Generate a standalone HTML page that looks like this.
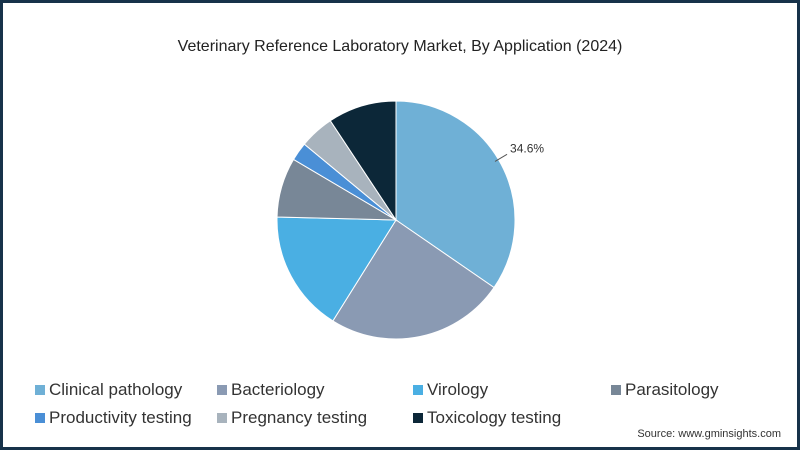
<!DOCTYPE html>
<html><head><meta charset="utf-8"><style>
html,body{margin:0;padding:0;background:#fff}
#wrap{width:800px;height:450px;position:relative;box-sizing:border-box;border:3px solid #17324a;font-family:"Liberation Sans",sans-serif;overflow:hidden}
#title{position:absolute;top:35px;left:0;width:794px;text-align:center;font-size:16px;color:#222}
.leg{position:absolute;font-size:17px;color:#333;display:flex;align-items:center}
.leg span.sw{width:10px;height:10px;display:inline-block;margin-right:4px}
#src{position:absolute;right:16px;top:425px;font-size:11px;color:#333}
</style></head><body>
<div id="wrap">
<div id="title">Veterinary Reference Laboratory Market, By Application (2024)</div>
<svg id="pie" width="794" height="444" style="position:absolute;left:0;top:0"></svg>
<div id="legend"></div>
<div id="src">Source: www.gminsights.com</div>
</div>
<script>
const categories=["Clinical pathology","Bacteriology","Virology","Parasitology","Productivity testing","Pregnancy testing","Toxicology testing"];
const values=[34.6,24.3,16.5,8.1,2.5,4.7,9.3];
const colors=["#6fb0d6","#8a9ab3","#4aafe3","#788797","#4a8fd6","#a8b3bd","#0c2738"];
const labelText=["34.6%"];
const svg=document.getElementById('pie');
const NS="http://www.w3.org/2000/svg";
const cx=393,cy=217,r=119;
const total=values.reduce((a,b)=>a+b,0);
let acc=0;
function pt(a,rr){return [cx+rr*Math.sin(a),cy-rr*Math.cos(a)];}
values.forEach((v,i)=>{
  const a0=acc/total*2*Math.PI;acc+=v;const a1=acc/total*2*Math.PI;
  const p0=pt(a0,r),p1=pt(a1,r);
  const large=(a1-a0)>Math.PI?1:0;
  const p=document.createElementNS(NS,'path');
  p.setAttribute('d',`M${cx},${cy}L${p0[0]},${p0[1]}A${r},${r} 0 ${large} 1 ${p1[0]},${p1[1]}Z`);
  p.setAttribute('fill',colors[i]);
  p.setAttribute('stroke','#fff');p.setAttribute('stroke-width','1');
  
  
  svg.appendChild(p);
  if(i===0){
    const am=(a0+a1)/2-0.05;
    const q0=pt(am,r-4),q1=pt(am,r+10);
    const l=document.createElementNS(NS,'path');
    l.setAttribute('d',`M${q0[0]},${q0[1]}L${q1[0]},${q1[1]}`);
    l.setAttribute('stroke','#555');l.setAttribute('fill','none');
    
    
    svg.appendChild(l);
    const t=document.createElementNS(NS,'text');
    t.setAttribute('x',q1[0]+3);t.setAttribute('y',q1[1]-2);
    t.setAttribute('font-size','12');t.setAttribute('fill','#333');
    t.setAttribute('font-family','Liberation Sans, sans-serif');
    t.textContent=labelText[0];
    
    
    svg.appendChild(t);
  }
});
const lx=[32,214,410,608,32,214,410],ly=[377,377,377,377,405,405,405];
const leg=document.getElementById('legend');
categories.forEach((c,i)=>{
  const d=document.createElement('div');d.className='leg';
  d.style.left=lx[i]+'px';d.style.top=ly[i]+'px';
  d.innerHTML=`<span class="sw" style="background:${colors[i]}"></span>${c}`;
  
  
  leg.appendChild(d);
});
</script>
</body></html>
